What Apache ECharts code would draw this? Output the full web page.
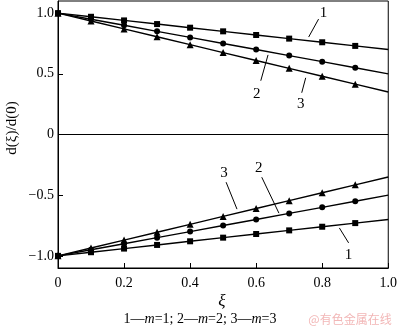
<!DOCTYPE html>
<html><head><meta charset="utf-8">
<script src="https://cdn.jsdelivr.net/npm/echarts@6/dist/echarts.min.js"></script>
<style>html,body{margin:0;padding:0;background:#fff}#c{width:400px;height:333px}</style>
</head><body><div id="c"></div>
<script>
var xi = [0, 0.1, 0.2, 0.3, 0.4, 0.5, 0.6, 0.7, 0.8, 0.9, 1.0];
var up1 = [1.0, 0.97, 0.94, 0.91, 0.88, 0.85, 0.82, 0.79, 0.76, 0.73, 0.70];
var up2 = [1.0, 0.95, 0.90, 0.85, 0.80, 0.75, 0.70, 0.65, 0.60, 0.55, 0.50];
var up3 = [1.0, 0.935, 0.87, 0.805, 0.74, 0.675, 0.61, 0.545, 0.48, 0.415, 0.35];
var dn1 = [-1.0, -0.97, -0.94, -0.91, -0.88, -0.85, -0.82, -0.79, -0.76, -0.73, -0.70];
var dn2 = [-1.0, -0.95, -0.90, -0.85, -0.80, -0.75, -0.70, -0.65, -0.60, -0.55, -0.50];
var dn3 = [-1.0, -0.935, -0.87, -0.805, -0.74, -0.675, -0.61, -0.545, -0.48, -0.415, -0.35];
var yTicks = [-1.0, -0.5, 0, 0.5, 1.0];
// annotation labels: [text, textX, textY, lineX1, lineY1, lineX2, lineY2] in data units
var notes = [
  ['1', 0.804, 1.0, 0.759, 0.803, 0.789, 0.951],
  ['2', 0.602, 0.33, 0.636, 0.656, 0.614, 0.443],
  ['3', 0.735, 0.25, 0.750, 0.467, 0.738, 0.344],
  ['3', 0.503, -0.32, 0.509, -0.393, 0.542, -0.615],
  ['2', 0.608, -0.28, 0.617, -0.352, 0.669, -0.648],
  ['1', 0.880, -0.99, 0.852, -0.770, 0.880, -0.893]
];
var font = '"Liberation Serif","DejaVu Serif",serif';
function mk(vals, sym, size) {
  return {
    type: 'line', symbol: sym, symbolSize: size, animation: false,
    lineStyle: { color: '#000', width: 1.4 }, itemStyle: { color: '#000' },
    data: xi.map(function (x, i) {
      var d = { value: [x, vals[i]] };
      if (i === xi.length - 1) d.symbol = 'none';
      return d;
    })
  };
}
var chart = echarts.init(document.getElementById('c'));
var series = [mk(up1, 'rect', 6), mk(up2, 'circle', 6), mk(up3, 'triangle', 7),
              mk(dn1, 'rect', 6), mk(dn2, 'circle', 6), mk(dn3, 'triangle', 7)];
series[0].markLine = { silent: true, symbol: 'none', animation: false, label: { show: false },
  lineStyle: { color: '#000', width: 1, type: 'solid' }, data: [{ yAxis: 0 }] };
chart.setOption({
  animation: false,
  grid: { left: 58, right: 10, top: 1, bottom: 65, show: true, borderColor: '#000', borderWidth: 1 },
  xAxis: {
    type: 'value', min: 0, max: 1, interval: 0.2,
    axisLine: { show: true, onZero: false, lineStyle: { color: '#000', width: 1 } },
    axisTick: { show: true, inside: true, length: 5, lineStyle: { color: '#000' } },
    splitLine: { show: false },
    axisLabel: { color: '#000', fontFamily: font, fontSize: 14, margin: 8,
      formatter: function (v) { return v === 0 ? '0' : v.toFixed(1); } }
  },
  yAxis: {
    type: 'value', min: -1.1, max: 1.1,
    axisLine: { show: true, onZero: false, lineStyle: { color: '#000', width: 1 } },
    axisTick: { show: true, inside: true, length: 5, lineStyle: { color: '#000' }, customValues: yTicks },
    splitLine: { show: false },
    axisLabel: { color: '#000', fontFamily: font, fontSize: 14, margin: 4, customValues: yTicks,
      formatter: function (v) { return v === 0 ? '0' : (v < 0 ? '\u2212' : '') + Math.abs(v).toFixed(1); } }
  },
  series: series
});
var g = [];
notes.forEach(function (n) {
  var t = chart.convertToPixel({ gridIndex: 0 }, [n[1], n[2]]);
  var p1 = chart.convertToPixel({ gridIndex: 0 }, [n[3], n[4]]);
  var p2 = chart.convertToPixel({ gridIndex: 0 }, [n[5], n[6]]);
  g.push({ type: 'line', shape: { x1: p1[0], y1: p1[1], x2: p2[0], y2: p2[1] }, style: { stroke: '#000', lineWidth: 1 } });
  g.push({ type: 'text', x: t[0], y: t[1], style: { text: n[0], font: '15px ' + font, fill: '#000', align: 'center', verticalAlign: 'middle' } });
});
g.push({ type: 'text', x: 12, y: 128, rotation: Math.PI / 2, style: { text: 'd(\u03BE)/d(0)', font: '15px ' + font, fill: '#000', align: 'center', verticalAlign: 'middle' } });
g.push({ type: 'text', x: 222, y: 302, style: { text: '\u03BE', font: 'italic 17px ' + font, fill: '#000', align: 'center', verticalAlign: 'middle' } });
g.push({ type: 'text', x: 200, y: 319, style: {
  text: '1\u2014{i|m}=1; 2\u2014{i|m}=2; 3\u2014{i|m}=3', font: '14px ' + font, fill: '#000', align: 'center', verticalAlign: 'middle',
  rich: { i: { fontStyle: 'italic', fontFamily: font, fontSize: 14, fill: '#000' } } } });
g.push({ type: 'text', x: 350, y: 319, style: { text: '@有色金属在线', font: '12px "Noto Sans CJK SC", sans-serif', fill: '#f2b7b7', align: 'center', verticalAlign: 'middle' } });
chart.setOption({ graphic: g });
</script></body></html>
